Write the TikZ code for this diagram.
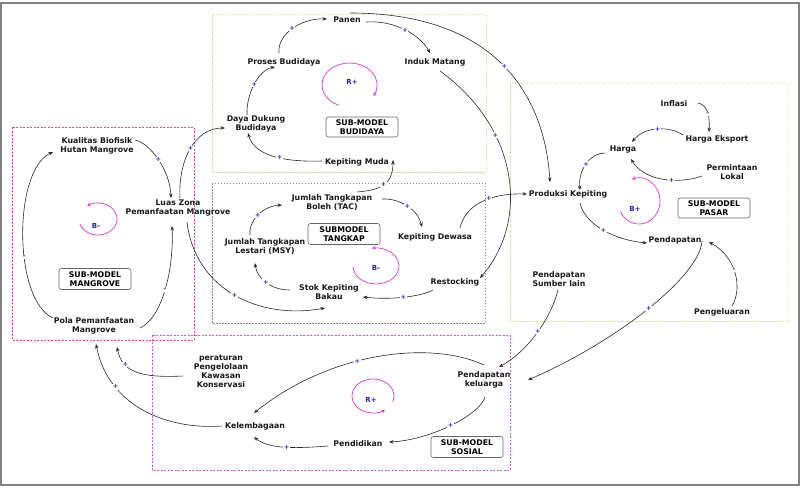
\documentclass[tikz,border=0pt]{standalone}
\usepackage{fontspec}
\setmainfont{DejaVu Sans}
\usetikzlibrary{arrows.meta}

\definecolor{framec}{RGB}{130,130,130}
\definecolor{mangc}{RGB}{215,80,125}
\definecolor{budc}{RGB}{215,215,150}
\definecolor{tangc}{RGB}{125,125,210}
\definecolor{pasc}{RGB}{222,222,160}
\definecolor{sosc}{RGB}{215,90,205}
\definecolor{loopc}{RGB}{215,60,215}
\definecolor{plusc}{RGB}{40,40,170}
\definecolor{minusc}{RGB}{90,90,90}
\definecolor{linkc}{RGB}{40,40,40}

\begin{document}
\begin{tikzpicture}[x=1pt,y=-1pt,
  lbl/.style={font=\bfseries\fontsize{7.8}{9}\selectfont, align=center, inner sep=0pt, text=black!90},
  subbox/.style={draw=black!60, rounded corners=2.5pt, line width=0.6pt, minimum width=72pt,
    minimum height=21pt, inner sep=0pt, font=\bfseries\fontsize{7.8}{9}\selectfont, align=center},
  link/.style={draw=linkc, line width=0.6pt, -{Stealth[length=4.5pt,width=3.5pt]}},
  plus/.style={font=\bfseries\fontsize{6.5}{6.5}\selectfont, text=plusc, fill=white, inner sep=0.6pt},
  minus/.style={font=\bfseries\fontsize{7.5}{7.5}\selectfont, text=minusc, fill=white, inner sep=0.6pt},
  loopline/.style={draw=loopc, line width=0.7pt, -{Stealth[length=4pt,width=3.5pt]}},
  looplbl/.style={font=\bfseries\fontsize{7}{7}\selectfont, text=plusc, inner sep=0pt},
  region/.style={line width=0.7pt, dash pattern=on 2pt off 1.5pt},
]
\useasboundingbox (0,0) rectangle (802,488);
\fill[white] (0,0) rectangle (802,488);
\draw[framec, line width=1.2pt] (1,3) rectangle (799,485);

% sub-model regions
\draw[region, mangc] (12,127) rectangle (194,340);
\draw[region, budc, dash pattern=on 1.5pt off 1.5pt] (212,14) rectangle (486,172);
\draw[region, tangc, dash pattern=on 1.5pt off 1.5pt] (212,183) rectangle (485,323);
\draw[region, pasc, dash pattern=on 1.5pt off 1.5pt] (510,83) rectangle (788,321);
\draw[region, sosc] (152,335) rectangle (510,470);

% variables
\node[lbl] (kual) at (97,146) {Kualitas Biofisik\\Hutan Mangrove};
\node[lbl] (luas) at (178,208) {Luas Zona\\Pemanfaatan Mangrove};
\node[lbl] (pola) at (94,326) {Pola Pemanfaatan\\Mangrove};
\node[lbl] (daya) at (256,124) {Daya Dukung\\Budidaya};
\node[lbl] (proses) at (284,62) {Proses Budidaya};
\node[lbl] (panen) at (347,20) {Panen};
\node[lbl] (induk) at (435,62) {Induk Matang};
\node[lbl] (muda) at (357,162) {Kepiting Muda};
\node[lbl] (tac) at (332,203) {Jumlah Tangkapan\\Boleh (TAC)};
\node[lbl] (dewasa) at (435,237) {Kepiting Dewasa};
\node[lbl] (msy) at (265,247) {Jumlah Tangkapan\\Lestari (MSY)};
\node[lbl] (stok) at (329,292) {Stok Kepiting\\Bakau};
\node[lbl] (resto) at (455,282) {Restocking};
\node[lbl] (prod) at (568,194) {Produksi Kepiting};
\node[lbl] (harga) at (623,149) {Harga};
\node[lbl] (ekspor) at (717,139) {Harga Eksport};
\node[lbl] (inflasi) at (674,104) {Inflasi};
\node[lbl] (permin) at (732,172) {Permintaan\\Lokal};
\node[lbl] (pend) at (675,240) {Pendapatan};
\node[lbl] (sumber) at (559,279) {Pendapatan\\Sumber lain};
\node[lbl] (pengel) at (722,312) {Pengeluaran};
\node[lbl] (kel) at (484,380) {Pendapatan\\keluarga};
\node[lbl] (atur) at (221,371) {peraturan\\Pengelolaan\\Kawasan\\Konservasi};
\node[lbl] (lemb) at (255,426) {Kelembagaan};
\node[lbl] (didik) at (358,444) {Pendidikan};

% sub-model labels
\node[subbox] (mangbox) at (95,279) {SUB-MODEL\\MANGROVE};
\node[subbox, minimum height=20pt] (budbox) at (362,127) {SUB-MODEL\\BUDIDAYA};
\node[subbox] (tangbox) at (344,234) {SUBMODEL\\TANGKAP};
\node[subbox, minimum height=20pt] (pasbox) at (714,208) {SUB-MODEL\\PASAR};
\node[subbox] (sosbox) at (467,447) {SUB-MODEL\\SOSIAL};

% feedback loop markers
\coordinate (lmang) at (98,219);
\coordinate (lbud) at (349.5,85);
\coordinate (ltang) at (376,266);
\coordinate (lpas) at (639,201);
\coordinate (lsos) at (373,396);
\draw[loopline] ([shift={(162:19 and 16)}]lmang) arc[start angle=162, end angle=-125, x radius=19, y radius=16];
\draw[loopline] ([shift={(113:27.5 and 22)}]lbud) arc[start angle=113, end angle=390, x radius=27.5, y radius=22];
\draw[loopline] ([shift={(177:23 and 18)}]ltang) arc[start angle=177, end angle=-100, x radius=23, y radius=18];
\draw[loopline] ([shift={(152:21 and 23)}]lpas) arc[start angle=152, end angle=-110, x radius=21, y radius=23];
\draw[loopline] ([shift={(20:21 and 17)}]lsos) arc[start angle=20, end angle=-305, x radius=21, y radius=17];
\node[looplbl] (tmang) at (96,226) {B-};
\node[looplbl] (tbud) at (352,82) {R+};
\node[looplbl] (ttang) at (376,268) {B-};
\node[looplbl] (tpas) at (635,209) {B+};
\node[looplbl] (tsos) at (371,400) {R+};

% mangrove links
\draw[link] ([shift={(-41,-8)}]pola.center) .. controls (13,300) and (13,170) .. ([shift={(-44,6)}]kual.center) node[minus,pos=0.4]{-};
\draw[link] ([shift={(38,-6)}]kual.center) .. controls (150,143) and (170,170) .. ([shift={(-7,-10)}]luas.center) node[plus,pos=0.5]{+};
\draw[link] ([shift={(46,2)}]pola.center) .. controls (162,318) and (174,270) .. ([shift={(-6,18)}]luas.center) node[minus,pos=0.5]{-};
\draw[link] ([shift={(2,-10)}]luas.center) .. controls (178,160) and (195,128) .. ([shift={(-31,4)}]daya.center) node[plus,pos=0.5]{+};
\draw[link] ([shift={(9,14)}]luas.center) .. controls (195,290) and (260,320) .. ([shift={(-4,16)}]stok.center) node[plus,pos=0.5]{+};

% budidaya links
\draw[link] ([shift={(-9,-9)}]daya.center) .. controls (246,95) and (258,70) .. ([shift={(-9,5)}]proses.center) node[plus,pos=0.5]{+};
\draw[link] ([shift={(-5,-9)}]proses.center) .. controls (277,35) and (300,18) .. ([shift={(-20,-1)}]panen.center) node[plus,pos=0.5]{+};
\draw[link] ([shift={(19,2)}]panen.center) .. controls (395,20) and (420,35) .. ([shift={(-5,-9)}]induk.center) node[plus,pos=0.5]{+};
\draw[link] ([shift={(3,-7)}]panen.center) .. controls (500,13) and (545,100) .. ([shift={(-18,-12)}]prod.center) node[plus,pos=0.5]{+};
\draw[link] ([shift={(5,9)}]induk.center) .. controls (520,129) and (529,222) .. ([shift={(25,-4)}]resto.center) node[plus,pos=0.32]{+};
\draw[link] ([shift={(25,-11)}]tac.center) .. controls (380,190) and (393,185) .. ([shift={(36,-2)}]muda.center) node[plus,pos=0.5]{+};
\draw[link] ([shift={(-35,-1)}]muda.center) .. controls (290,162) and (255,158) .. ([shift={(-8,9)}]daya.center) node[plus,pos=0.45]{+};

% tangkap links
\draw[link] ([shift={(50,-4)}]tac.center) .. controls (400,198) and (418,210) .. ([shift={(-13,-10)}]dewasa.center) node[plus,pos=0.5]{+};
\draw[link] ([shift={(-15,-12)}]msy.center) .. controls (248,222) and (262,206) .. ([shift={(-50,2)}]tac.center) node[plus,pos=0.5]{+};
\draw[link] ([shift={(-39,-2)}]stok.center) .. controls (270,290) and (257,278) .. ([shift={(-10,16)}]msy.center) node[plus,pos=0.5]{+};
\draw[link] ([shift={(-22,8)}]resto.center) .. controls (420,297) and (390,300) .. ([shift={(34,5)}]stok.center) node[plus,pos=0.5]{+};
\draw[link] ([shift={(25,-9)}]dewasa.center) .. controls (465,205) and (490,193) .. ([shift={(-41,0)}]prod.center) node[plus,pos=0.6]{+};

% pasar links
\draw[link] ([shift={(24,-1)}]inflasi.center) .. controls (706,105) and (710,112) .. ([shift={(-8,-7)}]ekspor.center) node[minus,pos=0.6]{-};
\draw[link] ([shift={(-34,-4)}]ekspor.center) .. controls (670,126) and (645,126) .. ([shift={(9,-7)}]harga.center) node[plus,pos=0.5]{+};
\draw[link] ([shift={(-30,4)}]permin.center) .. controls (680,184) and (645,182) .. ([shift={(8,10)}]harga.center) node[plus,pos=0.4]{+};
\draw[link] ([shift={(-18,4)}]harga.center) .. controls (590,153) and (578,170) .. ([shift={(12,-4)}]prod.center) node[plus,pos=0.5]{+};
\draw[link] ([shift={(12,9)}]prod.center) .. controls (585,225) and (615,240) .. ([shift={(-28,3)}]pend.center) node[plus,pos=0.5]{+};
\draw[link] ([shift={(10,-6)}]pengel.center) .. controls (742,290) and (738,258) .. ([shift={(34,2)}]pend.center) node[minus,pos=0.55]{-};
\draw[link] ([shift={(27,1)}]pend.center) .. controls (700,275) and (620,340) .. ([shift={(44,0)}]kel.center) node[plus,pos=0.5]{+};
\draw[link] ([shift={(-1,11)}]sumber.center) .. controls (552,315) and (530,350) .. ([shift={(15,-13)}]kel.center) node[plus,pos=0.5]{+};

% sosial links
\draw[link] ([shift={(0,-15)}]kel.center) .. controls (430,340) and (330,352) .. ([shift={(-1,-13)}]lemb.center) node[plus,pos=0.58]{+};
\draw[link] ([shift={(1,17)}]kel.center) .. controls (480,415) and (430,440) .. ([shift={(31,-2)}]didik.center) node[plus,pos=0.5]{+};
\draw[link] ([shift={(-30,2)}]didik.center) .. controls (300,448) and (270,450) .. ([shift={(-1,11)}]lemb.center) node[plus,pos=0.5]{+};
\draw[link] ([shift={(-33,0)}]lemb.center) .. controls (165,430) and (108,405) .. ([shift={(2,18)}]pola.center) node[plus,pos=0.72]{+};
\draw[link] ([shift={(-38,5)}]atur.center) .. controls (140,378) and (122,372) .. ([shift={(23,21)}]pola.center) node[plus,pos=0.7]{+};
\end{tikzpicture}
\end{document}
